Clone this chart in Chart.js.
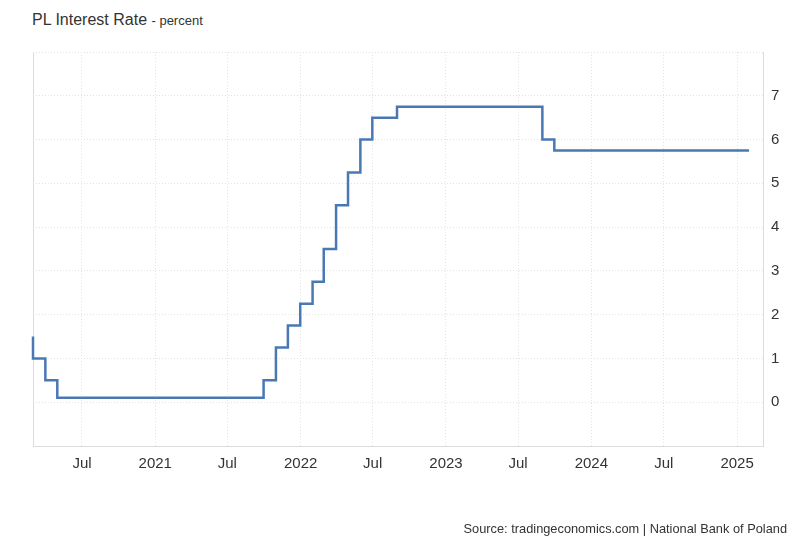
<!DOCTYPE html>
<html>
<head>
<meta charset="utf-8">
<script src="https://cdn.jsdelivr.net/npm/chart.js@4/dist/chart.umd.min.js"></script>
<style>
  html, body { margin: 0; padding: 0; background: #fff; }
  body { width: 800px; height: 547px; position: relative; overflow: hidden; font-family: "Liberation Sans", Arial, sans-serif; }
  #wrap { position: absolute; left: 0; top: 0; width: 800px; height: 547px; }
  .title { position: absolute; left: 32px; top: 11px; font-size: 16px; color: #333; white-space: nowrap; }
  .title span { font-size: 13px; }
  .source { position: absolute; right: 13px; top: 521px; font-size: 12.8px; color: #333; white-space: nowrap; }
</style>
</head>
<body>
<div class="title">PL Interest Rate <span>- percent</span></div>
<div id="wrap"><canvas id="rateChart"></canvas></div>
<div class="source">Source: tradingeconomics.com | National Bank of Poland</div>
<script>
// monthly readings, end of month (year-month)
const months = [
  '2020-02', '2020-03', '2020-04', '2020-05', '2020-06', '2020-07', '2020-08', '2020-09', '2020-10', '2020-11', '2020-12',
  '2021-01', '2021-02', '2021-03', '2021-04', '2021-05', '2021-06', '2021-07', '2021-08', '2021-09', '2021-10', '2021-11', '2021-12',
  '2022-01', '2022-02', '2022-03', '2022-04', '2022-05', '2022-06', '2022-07', '2022-08', '2022-09', '2022-10', '2022-11', '2022-12',
  '2023-01', '2023-02', '2023-03', '2023-04', '2023-05', '2023-06', '2023-07', '2023-08', '2023-09', '2023-10', '2023-11', '2023-12',
  '2024-01', '2024-02', '2024-03', '2024-04', '2024-05', '2024-06', '2024-07', '2024-08', '2024-09', '2024-10', '2024-11', '2024-12',
  '2025-01'
];
const rates = [
  1.5, 1.0, 0.5, 0.1, 0.1, 0.1, 0.1, 0.1, 0.1, 0.1, 0.1,
  0.1, 0.1, 0.1, 0.1, 0.1, 0.1, 0.1, 0.1, 0.1, 0.5, 1.25, 1.75,
  2.25, 2.75, 3.5, 4.5, 5.25, 6.0, 6.5, 6.5, 6.75, 6.75, 6.75, 6.75,
  6.75, 6.75, 6.75, 6.75, 6.75, 6.75, 6.75, 6.75, 6.0, 5.75, 5.75, 5.75,
  5.75, 5.75, 5.75, 5.75, 5.75, 5.75, 5.75, 5.75, 5.75, 5.75, 5.75, 5.75,
  5.75
];
const xTickDates = ['2020-07', '2021-01', '2021-07', '2022-01', '2022-07', '2023-01', '2023-07', '2024-01', '2024-07', '2025-01'];
const yTicks = [0, 1, 2, 3, 4, 5, 6, 7];

const monthNames = ['Jan', 'Feb', 'Mar', 'Apr', 'May', 'Jun', 'Jul', 'Aug', 'Sep', 'Oct', 'Nov', 'Dec'];

function monthEnd(ym) {
  const [y, m] = ym.split('-').map(Number);
  return Date.UTC(y, m, 0);
}
function monthStart(ym) {
  const [y, m] = ym.split('-').map(Number);
  return Date.UTC(y, m - 1, 1);
}

const points = months.map((m, i) => ({ x: monthEnd(m), y: rates[i] }));
const tickValues = xTickDates.map(monthStart);

// left frame line of the plot area
const leftBorder = {
  id: 'leftBorder',
  beforeDatasetsDraw(chart) {
    const { ctx, chartArea } = chart;
    ctx.save();
    ctx.strokeStyle = '#dcdcdc';
    ctx.lineWidth = 1;
    ctx.beginPath();
    ctx.moveTo(Math.round(chartArea.left) + 0.5, chartArea.top);
    ctx.lineTo(Math.round(chartArea.left) + 0.5, chartArea.bottom);
    ctx.stroke();
    ctx.restore();
  }
};

new Chart(document.getElementById('rateChart'), {
  type: 'line',
  data: {
    datasets: [{
      data: points,
      borderColor: '#4a78b5',
      borderWidth: 2.5,
      stepped: 'after',
      pointRadius: 0,
      fill: false,
      clip: 3
    }]
  },
  options: {
    responsive: true,
    maintainAspectRatio: false,
    animation: false,
    layout: { padding: { top: 52, left: 33, right: 0, bottom: 0 } },
    plugins: { legend: { display: false }, tooltip: { enabled: false } },
    scales: {
      x: {
        type: 'linear',
        min: monthEnd('2020-02'),
        max: Date.UTC(2025, 2, 7),
        afterBuildTicks: (scale) => {
          scale.ticks = tickValues.map(v => ({ value: v }));
        },
        afterFit: (scale) => { scale.height = 101; },
        ticks: {
          autoSkip: false,
          maxRotation: 0,
          padding: 9,
          color: '#333',
          font: { family: '"Liberation Sans", Arial, sans-serif', size: 15 },
          callback: (value) => {
            const d = new Date(value);
            return d.getUTCMonth() === 0 ? String(d.getUTCFullYear()) : monthNames[d.getUTCMonth()];
          }
        },
        grid: { color: '#e3e3e3', drawTicks: false },
        border: { color: '#dcdcdc', width: 1, dash: [1, 2] }
      },
      y: {
        position: 'right',
        min: -1,
        max: 8,
        afterFit: (scale) => { scale.width = 37; },
        ticks: {
          stepSize: 1,
          padding: 8,
          color: '#333',
          font: { family: '"Liberation Sans", Arial, sans-serif', size: 15 },
          callback: (value) => yTicks.includes(value) ? String(value) : ''
        },
        grid: { color: '#e3e3e3', drawTicks: false },
        border: { color: '#dcdcdc', width: 1, dash: [1, 2] }
      }
    }
  },
  plugins: [leftBorder]
});
</script>
</body>
</html>
